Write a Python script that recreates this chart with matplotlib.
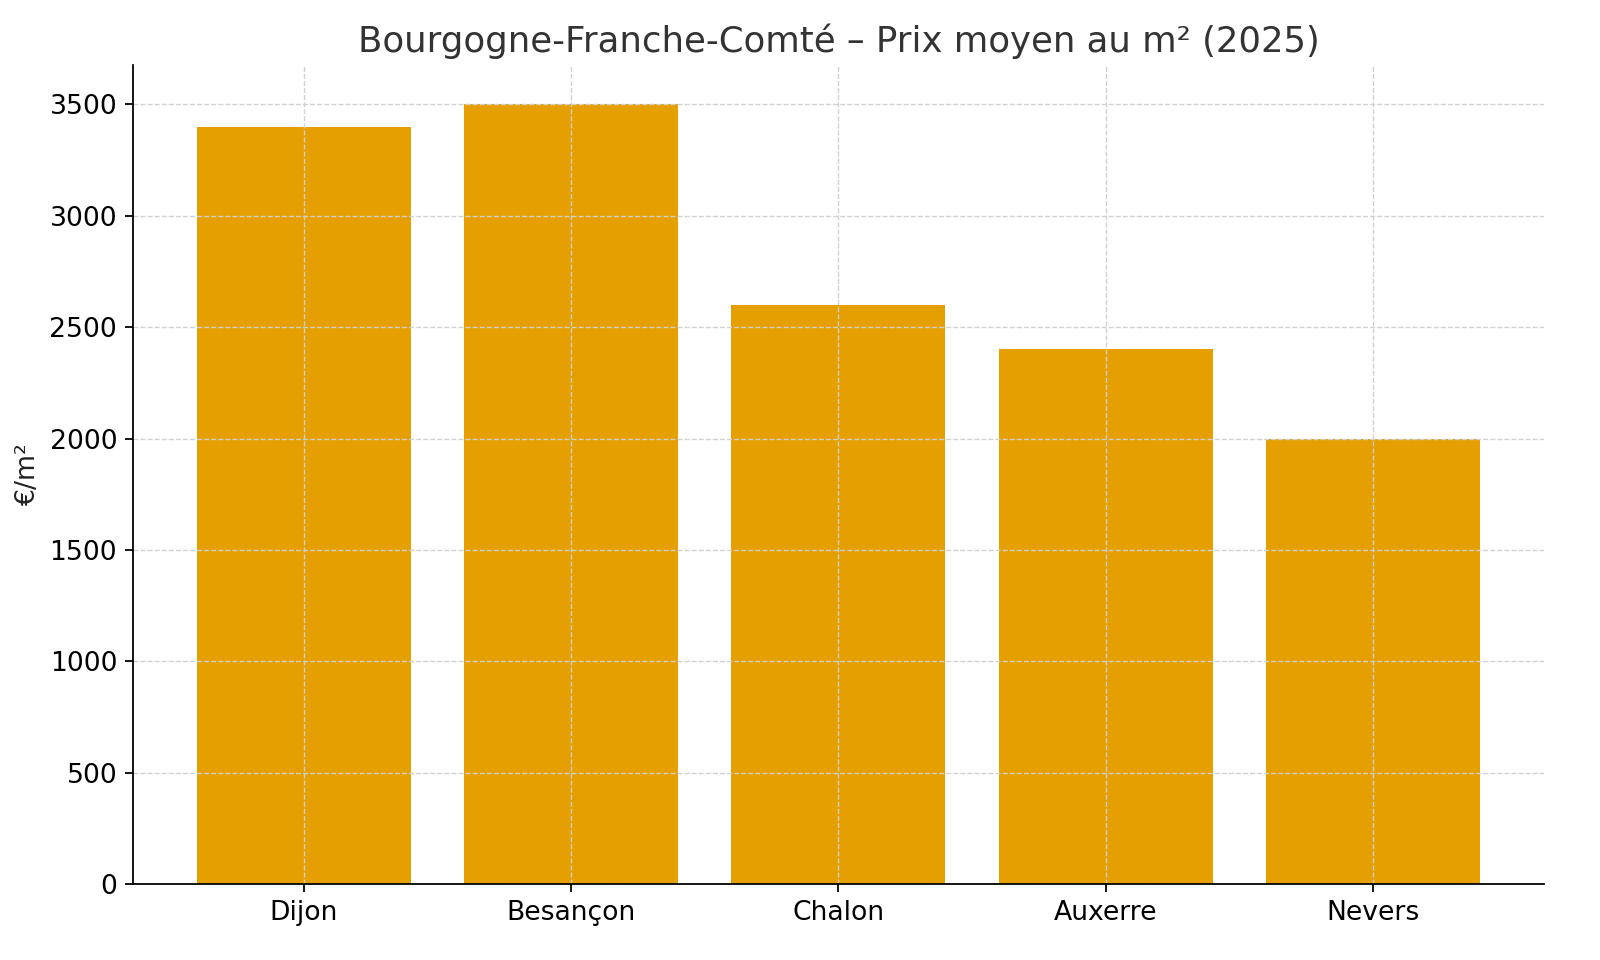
import matplotlib.pyplot as plt

# Data
villes = ['Dijon', 'Besançon', 'Chalon', 'Auxerre', 'Nevers']
prix = [3400, 3500, 2600, 2400, 2000]

fig, ax = plt.subplots(figsize=(10, 6), dpi=160)
ax.bar(villes, prix, color='#E69F00', width=0.8)

ax.set_title('Bourgogne-Franche-Comté – Prix moyen au m² (2025)', fontsize=16, color='#333333')
ax.set_ylabel('€/m²', fontsize=12, color='#222222')
ax.tick_params(labelsize=12)
ax.grid(True, linestyle='--', color='#d0d0d0', linewidth=0.6)
ax.set_axisbelow(False)
ax.spines['top'].set_visible(False)
ax.spines['right'].set_visible(False)
for s in ax.spines.values():
    s.set_zorder(5)

plt.subplots_adjust(left=0.083, right=0.965, top=0.932, bottom=0.079)
plt.savefig('out.png')
